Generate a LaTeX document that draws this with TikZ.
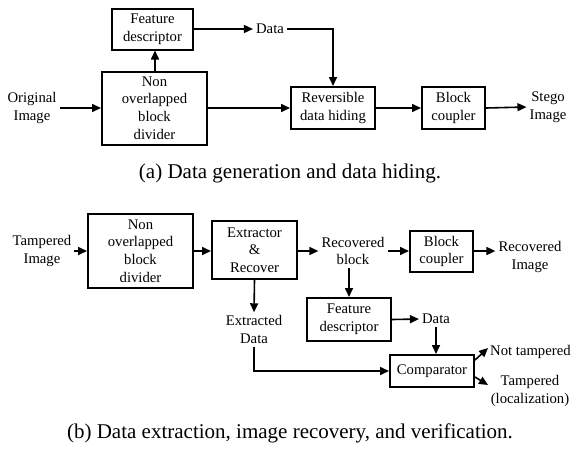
\documentclass[tikz,border=0pt]{standalone}
\usepackage{fontspec}
\setmainfont{Liberation Serif}
\usetikzlibrary{arrows.meta}
\tikzset{
  blk/.style={draw, line width=2pt, inner sep=0pt, align=center, font=\fontsize{14.7}{17.7}\selectfont},
  lbl/.style={inner sep=3pt, align=center, font=\fontsize{14.7}{17.7}\selectfont},
  captxt/.style={inner sep=0pt, anchor=base, font=\fontsize{21}{25}\selectfont},
  arr/.style={line width=1.6pt, -{Triangle[length=9pt,width=8pt]}}
}
\begin{document}
\begin{tikzpicture}[x=1pt,y=-1pt]
\useasboundingbox (0,0) rectangle (573,448);
% (a)
\node[blk, minimum width=81pt, minimum height=41pt] (fd1) at (152.5,29) {Feature\\descriptor};
\node[blk, minimum width=105pt, minimum height=73pt] (nob1) at (154.5,108) {Non\\overlapped\\block\\divider};
\node[blk, minimum width=84pt, minimum height=42pt] (rdh) at (333,108) {Reversible\\data hiding};
\node[blk, minimum width=63pt, minimum height=42pt] (bc1) at (453.5,108) {Block\\coupler};
\node[lbl] (orig) at (32,108) {Original\\Image};
\node[lbl] (data1) at (270,29) {Data};
\node[lbl] (stego) at (548,107) {Stego\\Image};
\draw[arr] (orig) -- (nob1);
\draw[arr] ([xshift=0.5pt]nob1.north) -- ([xshift=0.5pt]nob1.north |- fd1.south);
\draw[arr] (fd1.east) -- (data1.west);
\draw[arr] (data1.east) -| (rdh.north);
\draw[arr] (nob1.east) -- (rdh.west);
\draw[arr] (rdh.east) -- (bc1.west);
\draw[arr] (bc1.east) -- (stego.west);
\node[captxt] (capa) at (290,178) {(a) Data generation and data hiding.};
% (b)
\node[blk, minimum width=105pt, minimum height=74pt] (nob2) at (140.5,251) {Non\\overlapped\\block\\divider};
\node[blk, minimum width=85pt, minimum height=58pt] (er) at (254.5,250) {Extractor\\\&\\Recover};
\node[blk, minimum width=63pt, minimum height=41pt] (bc2) at (441.5,251.5) {Block\\coupler};
\node[blk, minimum width=84pt, minimum height=43pt] (fd2) at (349,319.5) {Feature\\descriptor};
\node[blk, minimum width=84pt, minimum height=32pt] (cmp) at (432,371) {Comparator};
\node[lbl] (tamp) at (42,251) {Tampered\\Image};
\node[lbl] (recb) at (353,251) {Recovered\\block};
\node[lbl] (reci) at (530,257) {Recovered\\Image};
\node[lbl] (data2) at (436,319) {Data};
\node[lbl] (extr) at (254,329.5) {Extracted\\Data};
\node[lbl, anchor=west] (nott) at (487,352) {Not tampered};
\node[lbl] (tamp2) at (530,391) {Tampered\\(localization)};
\coordinate (ntend) at (488,348);
\coordinate (tend) at (488,385);
\draw[arr] (tamp.east) -- (tamp.east -| nob2.west);
\draw[arr] (nob2.east |- 0,251) -- (er.west |- 0,251);
\draw[arr] (er.east |- 0,251) -- (recb.west |- 0,251);
\draw[arr] (recb.east |- 0,251) -- (bc2.west |- 0,251);
\draw[arr] (bc2.east |- 0,251) -- (reci.west |- 0,251);
\draw[arr] (fd2.north |- recb.south) -- (fd2.north);
\draw[arr] (fd2.east) -- (data2.west);
\draw[arr] (data2.south) -- (data2.south |- cmp.north);
\draw[arr] (er.south) -- (extr.north);
\draw[arr] (extr.south) |- (cmp.west);
\draw[arr] ([yshift=11pt]cmp.east) -- (ntend);
\draw[arr] ([yshift=-6pt]cmp.east) -- (tend);
\node[captxt] (capb) at (290,438) {(b) Data extraction, image recovery, and verification.};
\end{tikzpicture}
\end{document}
